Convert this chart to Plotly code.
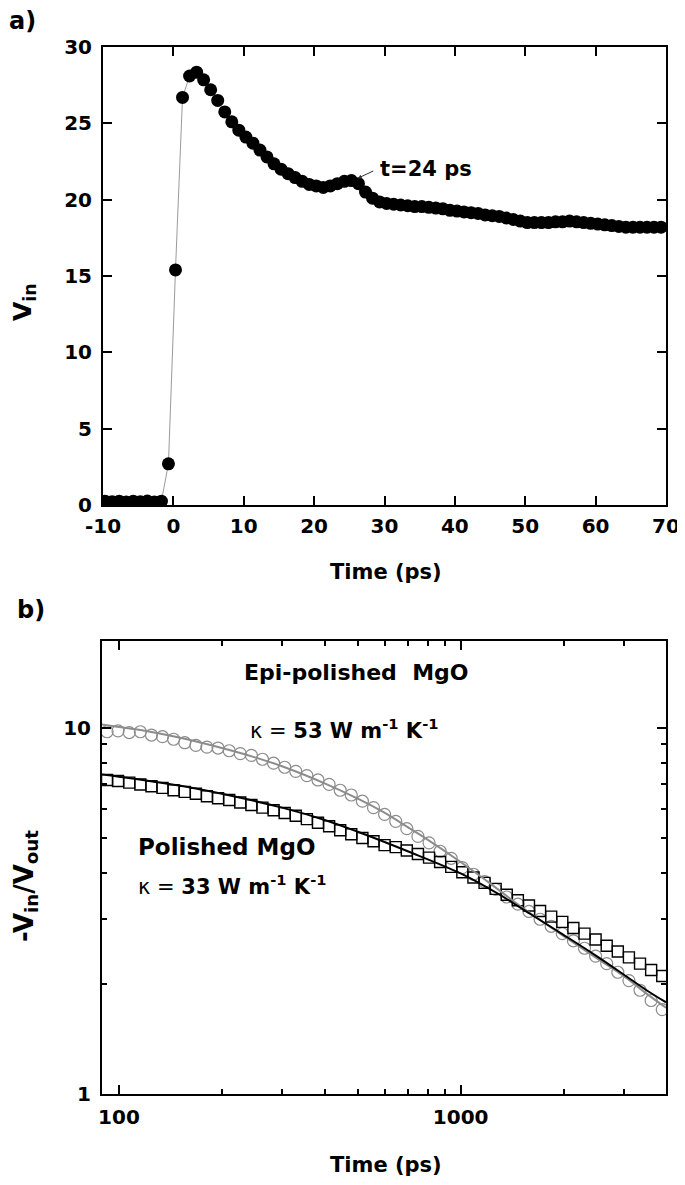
import plotly.graph_objects as go

# page body has an 8px margin: figure is placed at (8, 8)
OFF = 8
W, H = 685 - OFF, 1185 - OFF
FONT = "DejaVu Sans"

# ---------------- Panel a) data ----------------
time_a = [-9.7, -8.7, -7.7, -6.7, -5.7, -4.7, -3.7, -2.7, -1.7, -0.7,
          0.3, 1.3, 2.3, 3.3, 4.3, 5.3, 6.3, 7.3, 8.3, 9.3,
          10.3, 11.3, 12.3, 13.3, 14.3, 15.3, 16.3, 17.3, 18.3, 19.3,
          20.3, 21.3, 22.3, 23.3, 24.3, 25.3, 26.3, 27.3, 28.3, 29.3,
          30.3, 31.3, 32.3, 33.3, 34.3, 35.3, 36.3, 37.3, 38.3, 39.3,
          40.3, 41.3, 42.3, 43.3, 44.3, 45.3, 46.3, 47.3, 48.3, 49.3,
          50.3, 51.3, 52.3, 53.3, 54.3, 55.3, 56.3, 57.3, 58.3, 59.3,
          60.3, 61.3, 62.3, 63.3, 64.3, 65.3, 66.3, 67.3, 68.3, 69.3]
vin_a = [0.25, 0.22, 0.25, 0.20, 0.24, 0.22, 0.26, 0.20, 0.25, 2.7,
         15.4, 26.7, 28.1, 28.35, 27.85, 27.2, 26.5, 25.75, 25.1, 24.55,
         24.1, 23.7, 23.25, 22.8, 22.35, 22.0, 21.7, 21.45, 21.2, 21.0,
         20.9, 20.8, 20.9, 21.05, 21.2, 21.25, 21.05, 20.5, 20.1, 19.85,
         19.75, 19.7, 19.65, 19.6, 19.55, 19.55, 19.5, 19.45, 19.4, 19.3,
         19.25, 19.2, 19.15, 19.1, 19.0, 18.95, 18.9, 18.8, 18.7, 18.6,
         18.5, 18.5, 18.5, 18.5, 18.55, 18.55, 18.6, 18.55, 18.5, 18.45,
         18.4, 18.35, 18.3, 18.25, 18.2, 18.2, 18.2, 18.2, 18.2, 18.2]
xticks_a = [-10, 0, 10, 20, 30, 40, 50, 60, 70]
xticktext_a = ["-10", "0", "10", "20", "30", "40", "50", "60", "70"]
yticks_a = [0, 5, 10, 15, 20, 25, 30]

# ---------------- Panel b) data ----------------
time_b = [92.3, 99.4, 107.2, 115.5, 124.5, 134.1, 144.5, 155.8, 167.9, 180.9,
          195.0, 210.2, 226.5, 244.1, 263.0, 283.5, 305.5, 329.2, 354.8, 382.4,
          412.1, 444.1, 478.6, 515.8, 555.9, 599.0, 645.7, 695.8, 749.9, 808.2,
          871.0, 938.6, 1011.6, 1090.1, 1174.9, 1266.1, 1364.6, 1470.5, 1584.9, 1708.0,
          1840.8, 1983.7, 2138.0, 2304.0, 2483.1, 2676.0, 2884.0, 3108.0, 3349.7, 3609.9,
          3890.5]
epi_b = [9.75, 9.8, 9.7, 9.75, 9.55, 9.45, 9.3, 9.1, 8.95, 8.85,
         8.8, 8.65, 8.5, 8.4, 8.2, 8.0, 7.8, 7.6, 7.4, 7.2,
         7.0, 6.75, 6.55, 6.3, 6.05, 5.8, 5.55, 5.3, 5.05, 4.85,
         4.6, 4.4, 4.15, 3.98, 3.8, 3.62, 3.45, 3.3, 3.15, 3.0,
         2.87, 2.74, 2.62, 2.5, 2.38, 2.27, 2.15, 2.04, 1.92, 1.8,
         1.7]
pol_b = [7.2, 7.15, 7.08, 7.0, 6.92, 6.85, 6.75, 6.68, 6.6, 6.5,
         6.42, 6.35, 6.25, 6.15, 6.05, 5.95, 5.85, 5.75, 5.63, 5.5,
         5.38, 5.25, 5.12, 5.0, 4.9, 4.78, 4.72, 4.62, 4.52, 4.42,
         4.3, 4.17, 4.03, 3.9, 3.77, 3.63, 3.5, 3.38, 3.27, 3.16,
         3.05, 2.95, 2.84, 2.74, 2.64, 2.54, 2.45, 2.36, 2.27, 2.18,
         2.1]
fit_time_epi = [89, 100, 120, 150, 200, 250, 300, 400, 500, 600,
                700, 800, 1000, 1200, 1500, 2000, 2500, 3000, 3500, 3990]
fit_epi = [10.2, 10.05, 9.8, 9.4, 8.8, 8.3, 7.85, 7.05, 6.4, 5.85,
           5.35, 4.95, 4.3, 3.8, 3.25, 2.7, 2.35, 2.1, 1.88, 1.72]
fit_time_pol = [89, 100, 150, 200, 300, 400, 500, 700, 1000, 1300,
                1600, 2000, 2500, 3000, 3500, 3990]
fit_pol = [7.45, 7.35, 6.95, 6.6, 6.05, 5.6, 5.2, 4.6, 4.0, 3.5,
           3.1, 2.72, 2.38, 2.12, 1.92, 1.78]
xmajor_b = [100, 1000]
xminor_b = [200, 300, 400, 500, 600, 700, 800, 900, 2000, 3000]
ymajor_b = [1, 10]
yminor_b = [2, 3, 4, 5, 6, 7, 8, 9]


def px(x):
    return (x - OFF) / W


def py(y):
    return 1 - (y - OFF) / H


fig = go.Figure()

# panel a
fig.add_trace(go.Scatter(
    x=time_a, y=vin_a, mode="lines+markers",
    line=dict(color="#9a9a9a", width=1),
    marker=dict(color="black", size=13, line=dict(width=0)),
    xaxis="x", yaxis="y", showlegend=False))

# panel b
fig.add_trace(go.Scatter(
    x=time_b, y=epi_b, mode="markers",
    marker=dict(symbol="circle-open", color="#8c8c8c", size=12, line=dict(width=1.2, color="#8c8c8c")),
    xaxis="x2", yaxis="y2", showlegend=False))
fig.add_trace(go.Scatter(
    x=time_b, y=pol_b, mode="markers",
    marker=dict(symbol="square-open", color="black", size=11, line=dict(width=1.4, color="black")),
    xaxis="x2", yaxis="y2", showlegend=False))
fig.add_trace(go.Scatter(
    x=fit_time_epi, y=fit_epi, mode="lines", line=dict(color="#8c8c8c", width=2, shape="spline"),
    xaxis="x2", yaxis="y2", showlegend=False))
fig.add_trace(go.Scatter(
    x=fit_time_pol, y=fit_pol, mode="lines", line=dict(color="black", width=2, shape="spline"),
    xaxis="x2", yaxis="y2", showlegend=False))

tickfont = dict(family=FONT, size=20, color="black", weight="bold")
common = dict(showline=True, linewidth=2, linecolor="black", mirror="ticks",
              ticks="inside", tickwidth=2, tickcolor="black", showgrid=False,
              zeroline=False, tickfont=tickfont, automargin=False,
              ticklabeloverflow="allow")

fig.update_layout(
    width=W, height=H, margin=dict(l=0, r=0, t=0, b=0),
    paper_bgcolor="white", plot_bgcolor="white",
    xaxis=dict(domain=[px(103), px(666)], range=[-10, 70], tickvals=xticks_a,
               ticktext=xticktext_a, ticklen=9, anchor="y", ticklabelstandoff=2, **common),
    yaxis=dict(domain=[py(505), py(47)], range=[0, 30], tickvals=yticks_a,
               ticklen=9, anchor="x", ticklabelstandoff=5, **common),
    xaxis2=dict(domain=[px(102), px(666)], type="log", range=[1.9504, 3.601],
                tickvals=xmajor_b, ticktext=[str(v) for v in xmajor_b], ticklen=9, anchor="y2",
                ticklabelstandoff=4,
                minor=dict(tickvals=xminor_b, ticks="inside", ticklen=5, tickwidth=1.5,
                           tickcolor="black", showgrid=False),
                **common),
    yaxis2=dict(domain=[py(1094), py(641)], type="log", range=[0, 1.2367],
                tickvals=ymajor_b, ticktext=[str(v) for v in ymajor_b], ticklen=9, anchor="x2",
                ticklabelstandoff=5,
                minor=dict(tickvals=yminor_b, ticks="inside", ticklen=5, tickwidth=1.5,
                           tickcolor="black", showgrid=False),
                **common),
)


def label(text, x, y, size=20, angle=0, xanchor="center", yanchor="middle", bold=True):
    fig.add_annotation(text=text, x=px(x), y=py(y), xref="paper", yref="paper",
                       showarrow=False, textangle=angle, xanchor=xanchor, yanchor=yanchor,
                       font=dict(family=FONT, size=size, color="black",
                                 weight="bold" if bold else "normal"))


label("a)", 22, 21, size=24)
label("b)", 31, 610, size=24)
label("V<sub>in</sub>", 24, 302, size=25, angle=-90)
label("Time (ps)", 386, 572, size=21)
label("Time (ps)", 386, 1165, size=21)
label("-V<sub>in</sub>/V<sub>out</sub>", 25, 886, size=26, angle=-90)

# t=24 ps annotation with small arrow
fig.add_annotation(x=26.2, y=21.4, xref="x", yref="y", text="", showarrow=True,
                   ax=17, ay=-8, arrowhead=2, arrowsize=0.8, arrowwidth=1, arrowcolor="#333333")
label("t=24 ps", 378, 169, size=21, xanchor="left")

label("Epi-polished\u00a0\u00a0MgO", 356, 672, size=22)
label("<span style='font-weight:normal'>\u03ba = </span>53 W m<sup>-1</sup> K<sup>-1</sup>", 344, 729, size=21)
label("Polished MgO", 136, 847, size=23, xanchor="left")
label("<span style='font-weight:normal'>\u03ba = </span>33 W m<sup>-1</sup> K<sup>-1</sup>", 136, 885, size=21, xanchor="left")

fig.write_html("out.html")
